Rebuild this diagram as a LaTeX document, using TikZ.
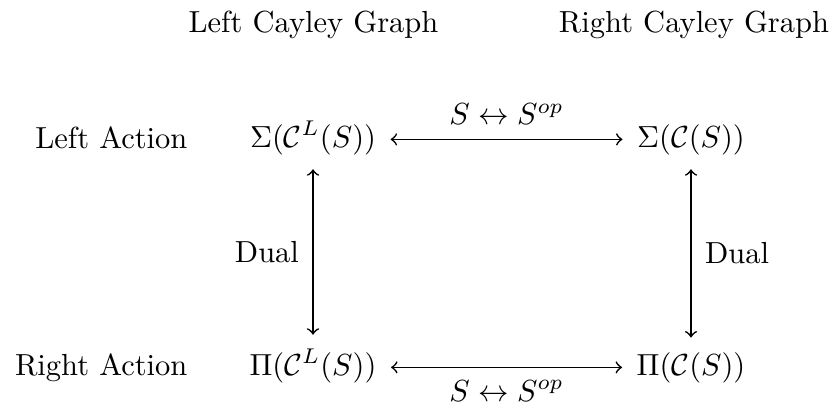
\documentclass[tikz,border=0pt]{standalone}
\begin{document}
\begin{tikzpicture}[x=0.328pt,y=-0.328pt,
  obj/.style={inner sep=4.6pt,anchor=base},
  lbl/.style={inner sep=0pt},
  arr/.style={<->,line width=0.55pt}]
\useasboundingbox (0,0) rectangle (835,407);
\node[lbl,anchor=base] (tl) at (313.5,32) {Left Cayley Graph};
\node[lbl,anchor=base] (tr) at (694,32) {Right Cayley Graph};
\node[lbl,anchor=base east] (la) at (188,148) {Left Action};
\node[lbl,anchor=base east] (ra) at (188,375) {Right Action};
\node[obj] (sl) at (313,147) {$\Sigma(\mathcal{C}^L(S))$};
\node[obj] (sr) at (691,147) {$\Sigma(\mathcal{C}(S))$};
\node[obj] (pl) at (313,375) {$\Pi(\mathcal{C}^L(S))$};
\node[obj] (pr) at (691,375) {$\Pi(\mathcal{C}(S))$};
\draw[arr] ([yshift=2.5pt]sl.base east) -- node[above=1.2pt] {$S\leftrightarrow S^{op}$} ([yshift=2.5pt]sr.base west);
\draw[arr] ([yshift=2.5pt]pl.base east) -- node[below=0.6pt] {$S\leftrightarrow S^{op}$} ([yshift=2.5pt]pr.base west);
\draw[arr] (sl.south) -- node[left=1pt] {Dual} (pl.north);
\draw[arr] (sr.south) -- node[right=1pt] {Dual} (pr.north);
\end{tikzpicture}
\end{document}
